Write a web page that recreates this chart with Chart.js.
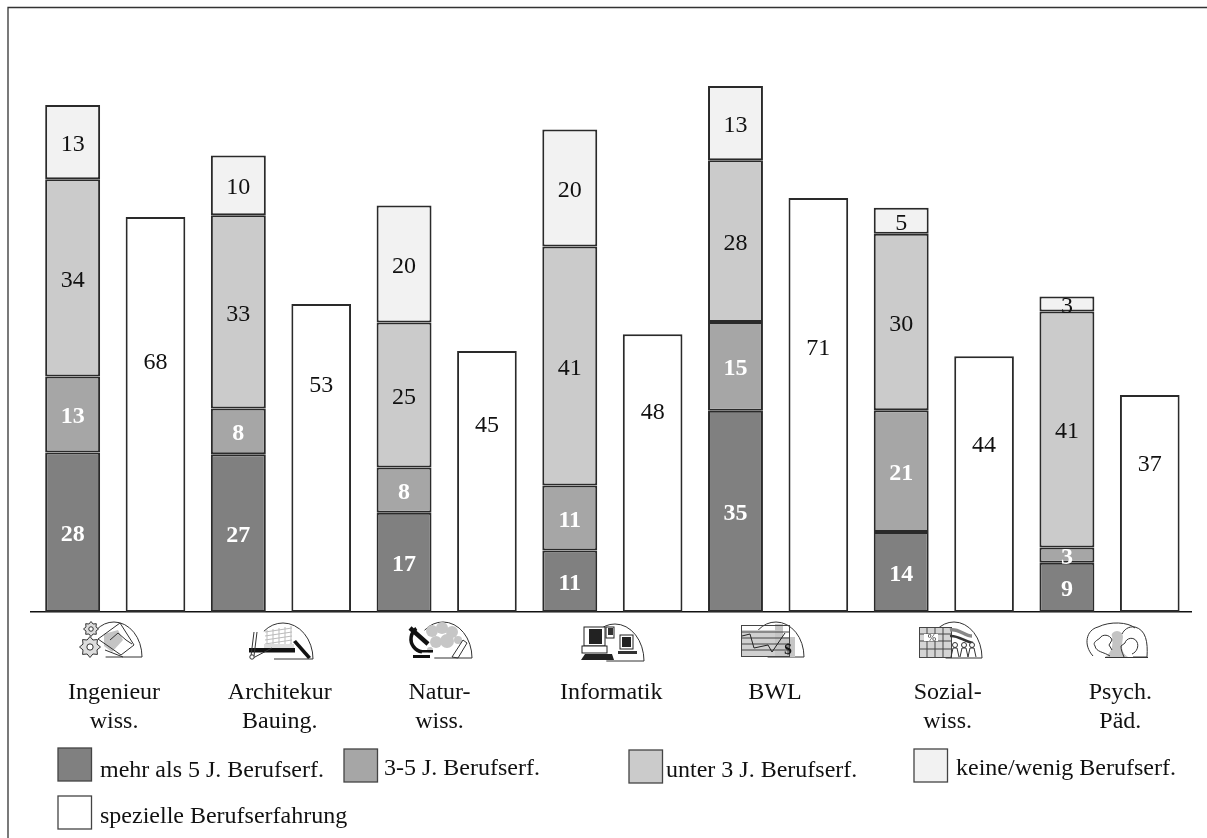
<!DOCTYPE html>
<html><head><meta charset="utf-8">
<style>html,body{margin:0;padding:0;background:#fff}#w{position:absolute;left:0;top:0;width:1207px;height:838px}canvas{display:block}</style>
<script src="https://cdn.jsdelivr.net/npm/chart.js@4"></script>
</head><body><div id="w"><canvas id="c" width="1207" height="838"></canvas></div>
<script>
const categories = [["Ingenieur","wiss."],["Architekur","Bauing."],["Natur-","wiss."],["Informatik"],["BWL"],["Sozial-","wiss."],["Psych.","Päd."]];
const seriesNames = ["mehr als 5 J. Berufserf.","3-5 J. Berufserf.","unter 3 J. Berufserf.","keine/wenig Berufserf.","spezielle Berufserfahrung"];
const more5 = [27.5,27.2,17.1,10.6,34.7,13.8,8.5];
const y3to5 = [13.1,7.9,7.8,11.2,15.3,21.0,2.6];
const under3 = [34.0,33.3,25.0,41.2,27.9,30.4,40.7];
const little = [12.8,10.3,20.2,20.2,12.8,4.5,2.6];
const special = [68.1,53.1,45.0,47.9,71.4,44.1,37.4];

const FONT = '"Liberation Serif"';
const FILL = ["#808080","#a6a6a6","#cbcbcb","#f2f2f2","#ffffff"];
const LINE = "#2a2a2a";
const tickShift = [0,0,-6,0,-2,5,12];
const specialLabelY = [363,386,426,413,349,446,465];
const legendBox = [[58,748],[344,749],[629,750],[914,749],[58,796]];
const legendText = [[100,777],[384,775],[666,777],[956,775],[100,823]];

function ds(i,data,stack,w){return {label:seriesNames[i],data,stack,backgroundColor:FILL[i],borderColor:LINE,borderWidth:2,borderSkipped:false,barPercentage:w,categoryPercentage:1,textColor:i<2?"#fff":"#111",textBold:i<2};}

function dome(c,x,y,w,h){
  c.strokeStyle="#333";c.lineWidth=1;c.beginPath();
  c.moveTo(x+w,y+h);c.ellipse(x+w*0.5,y+h,w*0.5,h,0,0,-Math.PI*0.72,true);c.stroke();
  c.beginPath();c.moveTo(x+w*0.35,y+h);c.lineTo(x+w,y+h);c.stroke();
}
function gear(c,x,y,r){
  c.strokeStyle="#333";c.lineWidth=1;c.fillStyle="#ddd";c.beginPath();
  for(let i=0;i<16;i++){const a=i*Math.PI/8,q=i%2?r*0.72:r;c.lineTo(x+q*Math.cos(a),y+q*Math.sin(a));}
  c.closePath();c.fill();c.stroke();
  c.fillStyle="#fff";c.beginPath();c.arc(x,y,r*0.3,0,7);c.fill();c.stroke();
}
const icons = [
 c=>{dome(c,86,622,56,35);gear(c,91,629,7.5);gear(c,90,647,10.5);
  c.fillStyle="#c4c4c4";c.beginPath();c.moveTo(104,634);c.lineTo(118,630);c.lineTo(123,640);c.lineTo(112,652);c.lineTo(104,646);c.closePath();c.fill();
  c.strokeStyle="#333";c.lineWidth=1;c.beginPath();c.moveTo(98,639);c.lineTo(120,623);c.lineTo(134,645);c.lineTo(121,655);c.closePath();c.stroke();
  c.beginPath();c.moveTo(105,650);c.lineTo(123,657);c.moveTo(110,640);c.lineTo(118,633);c.lineTo(126,640);c.lineTo(132,644);c.stroke();},
 c=>{dome(c,253,623,60,36);
  c.strokeStyle="#bbb";c.lineWidth=1;c.beginPath();
  for(let i=0;i<5;i++){c.moveTo(267+i*6,630-i);c.lineTo(267+i*6,650);}
  for(let j=0;j<5;j++){c.moveTo(265,632+j*4);c.lineTo(292,628+j*4);}c.stroke();
  c.fillStyle="#ddd";c.fillRect(264,644,30,8);
  c.fillStyle="#111";c.fillRect(249,648,46,4.5);
  c.beginPath();c.moveTo(293,642);c.lineTo(296,640);c.lineTo(311,657);c.lineTo(308,659);c.closePath();c.fill();
  c.strokeStyle="#333";c.beginPath();c.moveTo(254,632);c.lineTo(251,656);c.moveTo(257,632);c.lineTo(254,656);c.moveTo(253,658);c.lineTo(272,648);c.stroke();
  c.fillStyle="#fff";c.beginPath();c.arc(252,657,2.2,0,7);c.fill();c.stroke();},
 c=>{dome(c,414,622,58,36);
  c.fillStyle="#c6c6c6";for(const [x,y,r] of [[432,631,6],[442,628,6],[452,632,6],[436,642,6],[447,641,7],[430,650,3],[458,640,4]]){c.beginPath();c.arc(x,y,r,0,7);c.fill();}
  c.strokeStyle="#111";c.lineWidth=4.5;c.beginPath();c.moveTo(410,628);c.lineTo(428,644);c.stroke();
  c.lineWidth=3.5;c.beginPath();c.arc(424,639,13,Math.PI*0.55,Math.PI*1.3);c.stroke();
  c.fillStyle="#111";c.fillRect(413,655,17,3);c.fillRect(420,650,13,2.5);
  c.strokeStyle="#333";c.lineWidth=1;c.beginPath();c.moveTo(452,657);c.lineTo(463,640);c.lineTo(467,643);c.lineTo(458,658);c.closePath();c.stroke();},
 c=>{dome(c,586,624,58,37);
  c.strokeStyle="#222";c.lineWidth=1;c.fillStyle="#fff";c.fillRect(584,627,21,19);c.strokeRect(584,627,21,19);
  c.fillStyle="#222";c.fillRect(589,629,13,15);
  c.fillStyle="#fff";c.fillRect(582,646,25,7);c.strokeRect(582,646,25,7);
  c.fillStyle="#222";c.beginPath();c.moveTo(585,654);c.lineTo(612,654);c.lineTo(614,660);c.lineTo(581,660);c.closePath();c.fill();
  c.fillStyle="#fff";c.strokeRect(606,627,8,11);c.fillStyle="#333";c.fillRect(608,628,5,7);
  c.fillStyle="#fff";c.fillRect(620,635,13,14);c.strokeRect(620,635,13,14);c.fillStyle="#222";c.fillRect(622,637,9,10);
  c.fillStyle="#333";c.fillRect(618,651,19,3);},
 c=>{dome(c,748,622,56,35);
  c.fillStyle="#c6c6c6";c.fillRect(775,624,8,33);c.fillRect(783,637,12,20);
  c.fillStyle="#d0d0d0";c.fillRect(742,630,33,27);
  c.strokeStyle="#444";c.lineWidth=1;c.strokeRect(741.5,625.5,48,31);
  c.beginPath();for(const y of [632,638,644,650]){c.moveTo(742,y);c.lineTo(790,y);}c.stroke();
  c.strokeStyle="#222";c.beginPath();c.moveTo(742,636);c.lineTo(750,634);c.lineTo(754,648);c.lineTo(768,645);c.lineTo(772,652);c.lineTo(785,633);c.stroke();
  c.fillStyle="#111";c.font="bold 15px "+FONT;c.textAlign="center";c.textBaseline="middle";c.fillText("$",788,650);},
 c=>{dome(c,926,622,56,36);
  c.strokeStyle="#444";c.lineWidth=1;c.fillStyle="#d4d4d4";c.fillRect(919.5,627.5,32,30);c.strokeRect(919.5,627.5,32,30);
  c.beginPath();for(const y of [634,641,649]){c.moveTo(920,y);c.lineTo(952,y);}for(const x of [927,935,943]){c.moveTo(x,628);c.lineTo(x,657);}c.stroke();
  c.fillStyle="#fff";c.fillRect(924,634,14,7);
  c.fillStyle="#222";c.font="10px "+FONT;c.textAlign="center";c.textBaseline="middle";c.fillText("%",932,638);
  c.lineWidth=3.5;c.strokeStyle="#888";c.beginPath();c.moveTo(950,630);c.bezierCurveTo(958,628,965,636,972,636);c.stroke();
  c.strokeStyle="#333";c.lineWidth=2.5;c.beginPath();c.moveTo(950,636);c.bezierCurveTo(958,635,965,642,973,643);c.stroke();
  c.lineWidth=1;c.fillStyle="#fff";for(const x of [955,964,972]){c.beginPath();c.arc(x,645,2.5,0,7);c.fill();c.stroke();c.beginPath();c.moveTo(x-4,657);c.lineTo(x-2,648);c.lineTo(x+2,648);c.lineTo(x+4,657);c.stroke();}},
 c=>{c.strokeStyle="#333";c.lineWidth=1;
  c.fillStyle="#c4c4c4";c.beginPath();c.moveTo(1105,657);c.bezierCurveTo(1115,650,1112,640,1112,634);c.arc(1117,637,6,Math.PI,0);c.bezierCurveTo(1122,645,1120,652,1128,657);c.closePath();c.fill();
  c.beginPath();c.moveTo(1093,656);c.bezierCurveTo(1083,645,1086,630,1098,627);c.bezierCurveTo(1110,621,1128,622,1135,628);c.stroke();
  c.beginPath();c.moveTo(1133,657);c.lineTo(1147,657);c.bezierCurveTo(1148,642,1146,630,1135,627);c.bezierCurveTo(1128,626,1124,630,1122,634);c.stroke();
  c.beginPath();c.moveTo(1110,656);c.bezierCurveTo(1104,652,1096,652,1095,646);c.bezierCurveTo(1092,642,1098,640,1100,638);c.bezierCurveTo(1102,634,1110,634,1112,640);c.lineTo(1109,645);c.lineTo(1112,650);c.stroke();
  c.beginPath();c.moveTo(1124,657);c.bezierCurveTo(1122,652,1121,650,1121,646);c.lineTo(1125,643);c.bezierCurveTo(1126,638,1134,636,1137,642);c.bezierCurveTo(1139,646,1137,652,1132,654);c.stroke();
  c.beginPath();c.moveTo(1105,657.5);c.lineTo(1148,657.5);c.stroke();}
];

const page = {
  id:"page",
  beforeDraw(ch){
    const c=ch.ctx;c.save();
    c.fillStyle="#fff";c.fillRect(0,0,1207,838);
    c.strokeStyle="#333";c.lineWidth=1.3;c.beginPath();c.moveTo(8,838);c.lineTo(8,7.5);c.lineTo(1207,7.5);c.stroke();
    c.restore();
    const items=ch.scales.x.getLabelItems();
    if(!items._moved){items.forEach((it,i)=>{it.options.translation[0]+=tickShift[i];});items._moved=true;}
  },
  afterDatasetsDraw(ch){
    const c=ch.ctx;c.save();
    c.textAlign="center";c.textBaseline="middle";
    ch.data.datasets.forEach((d,di)=>{
      ch.getDatasetMeta(di).data.forEach((el,i)=>{
        c.fillStyle=d.textColor;
        c.font=(d.textBold?"bold ":"")+"24px "+FONT;
        const y=di===4?specialLabelY[i]:(el.y+el.base)/2+2.5;
        c.fillText(String(Math.round(d.data[i])),el.x,y);
      });
    });
    c.restore();
  },
  afterDraw(ch){
    const c=ch.ctx;
    icons.forEach(f=>{c.save();f(c);c.restore();});
    c.save();c.textAlign="left";c.textBaseline="alphabetic";c.font="24px "+FONT;
    ch.data.datasets.forEach((d,i)=>{
      const [x,y]=legendBox[i],[tx,ty]=legendText[i];
      c.fillStyle=d.backgroundColor;c.strokeStyle="#444";c.lineWidth=1.3;
      c.fillRect(x,y,33.5,33);c.strokeRect(x,y,33.5,33);
      c.fillStyle="#111";c.fillText(d.label,tx,ty);
    });
    c.restore();
  }
};

new Chart(document.getElementById("c"),{
  type:"bar",
  data:{labels:categories,datasets:[
    ds(0,more5,"a",0.663),ds(1,y3to5,"a",0.663),ds(2,under3,"a",0.663),ds(3,little,"a",0.663),ds(4,special,"b",0.72)
  ]},
  plugins:[page],
  options:{
    responsive:false,animation:false,devicePixelRatio:1,
    layout:{padding:{left:30.5,right:14.5,top:32,bottom:0}},
    plugins:{legend:{display:false},tooltip:{enabled:false}},
    scales:{
      x:{stacked:true,offset:true,
        grid:{display:false,drawTicks:false},
        border:{display:true,color:"#111",width:1.5},
        afterFit(s){s.height=226;},
        ticks:{autoSkip:false,maxRotation:0,padding:66,color:"#111",font:{family:FONT,size:24,lineHeight:"29px"}}},
      y:{stacked:true,display:false,min:0,max:100}
    }
  }
});
</script></body></html>
